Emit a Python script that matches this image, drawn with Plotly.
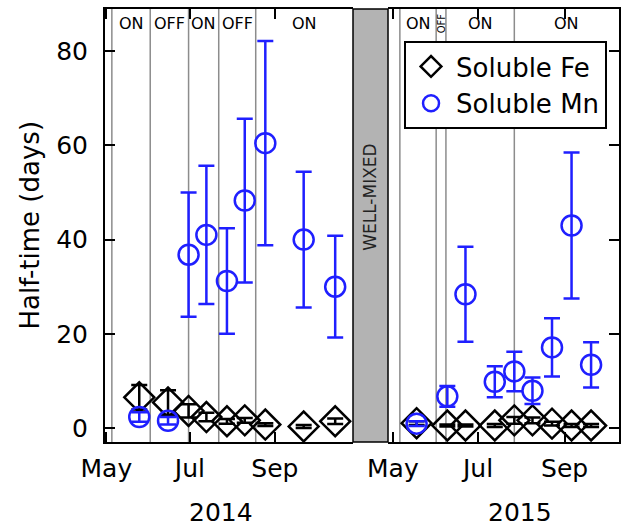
import plotly.graph_objects as go
import pandas as pd

# ---- sampling dates and half-times (days) ----
dates_2014 = ["2014-05-25", "2014-06-15", "2014-06-30", "2014-07-13", "2014-07-28",
              "2014-08-10", "2014-08-25", "2014-09-22", "2014-10-15"]
fe_2014 = [6.5, 5.4, 3.6, 2.3, 1.4, 1.6, 0.7, 0.3, 1.4]
fe_err_2014 = [2.6, 2.6, 1.4, 0.9, 0.5, 0.5, 0.3, 0.3, 0.6]
mn_2014 = [2.3, 1.5, 36.8, 41.0, 31.2, 48.3, 60.5, 40.0, 30.0]
mn_err_2014 = [1.0, 0.8, 13.2, 14.7, 11.2, 17.4, 21.7, 14.4, 10.8]

dates_2015 = ["2015-05-18", "2015-06-09", "2015-06-22", "2015-07-13", "2015-07-27",
              "2015-08-09", "2015-08-23", "2015-09-06", "2015-09-20"]
fe_2015 = [1.0, 0.5, 0.5, 0.5, 1.6, 1.6, 0.9, 0.5, 0.5]
fe_err_2015 = [0.4, 0.2, 0.2, 0.3, 0.7, 0.6, 0.4, 0.3, 0.3]
mn_2015 = [0.9, 6.7, 28.4, 9.8, 12.0, 7.9, 17.1, 43.0, 13.4]
mn_err_2015 = [0.5, 2.2, 10.1, 3.3, 4.2, 2.8, 6.2, 15.5, 4.8]

# ---- aeration periods (boundaries and state labels) ----
range_2014 = ["2014-04-30", "2014-10-28"]
range_2015 = ["2015-04-27 12:00", "2015-10-10"]
bounds_2014 = ["2014-05-05", "2014-06-02", "2014-06-30", "2014-07-22", "2014-08-18"]
states_2014 = ["ON", "OFF", "ON", "OFF", "ON"]
bounds_2015 = ["2015-05-06", "2015-06-01", "2015-06-08", "2015-07-27"]
states_2015 = ["ON", "OFF", "ON", "ON"]

# ---- axis ticks ----
month_ticks_2014 = ["2014-05-01", "2014-07-01", "2014-09-01"]
month_ticks_2015 = ["2015-05-01", "2015-07-01", "2015-09-01"]
month_labels = ["May", "Jul", "Sep"]
y_ticks = [0, 20, 40, 60, 80]
years = ["2014", "2015"]

FONT = "DejaVu Sans"
BLUE = "#1f1fff"
GRID = "#8c8c8c"
BAND = "#b3b3b3"

dom_left = [0.0, 0.4825]
dom_right = [0.5506, 1.0]

fig = go.Figure()


def add_series(xs, ys, errs, name, symbol, color, size, xa, ya, show):
    fig.add_trace(go.Scatter(
        x=xs, y=ys, mode="markers", name=name, showlegend=show,
        xaxis=xa, yaxis=ya,
        marker=dict(symbol=symbol, size=size, color=color,
                    line=dict(color=color, width=2.5)),
        error_y=dict(type="data", array=errs, color=color, thickness=2.5, width=8),
    ))


add_series(dates_2014, fe_2014, fe_err_2014, "Soluble Fe", "diamond-open", "black", 23, "x", "y", True)
add_series(dates_2015, fe_2015, fe_err_2015, "Soluble Fe", "diamond-open", "black", 23, "x2", "y2", False)
add_series(dates_2014, mn_2014, mn_err_2014, "Soluble Mn", "circle-open", BLUE, 20, "x", "y", True)
add_series(dates_2015, mn_2015, mn_err_2015, "Soluble Mn", "circle-open", BLUE, 20, "x2", "y2", False)

shapes = []
annotations = []


def mid_date(a, b):
    ta, tb = pd.Timestamp(a), pd.Timestamp(b)
    return (ta + (tb - ta) / 2).strftime("%Y-%m-%d %H:%M")


def add_periods(bounds, states, end, xref, rotate_short):
    for b in bounds:
        shapes.append(dict(type="line", xref=xref, yref="paper", x0=b, x1=b, y0=0, y1=1,
                           line=dict(color=GRID, width=1.5), layer="below"))
    edges = bounds + [end]
    for i, s in enumerate(states):
        span = (pd.Timestamp(edges[i + 1]) - pd.Timestamp(edges[i])).days
        narrow = rotate_short and span < 10
        annotations.append(dict(
            x=mid_date(edges[i], edges[i + 1]), y=0.967, xref=xref, yref="paper",
            text=s, showarrow=False, textangle=-90 if narrow else 0,
            font=dict(family=FONT, size=10 if narrow else 16, color="black"),
            xanchor="center", yanchor="middle"))


add_periods(bounds_2014, states_2014, range_2014[1], "x", False)
add_periods(bounds_2015, states_2015, range_2015[1], "x2", True)

# well-mixed winter band between the two seasons
shapes.append(dict(type="rect", xref="paper", yref="paper",
                   x0=dom_left[1], x1=dom_right[0], y0=0, y1=1,
                   fillcolor=BAND, line=dict(color="black", width=1.5), layer="above"))
annotations.append(dict(x=(dom_left[1] + dom_right[0]) / 2, y=0.565, xref="paper", yref="paper",
                        text="WELL-MIXED", textangle=-90, showarrow=False,
                        xanchor="center", yanchor="middle",
                        font=dict(family=FONT, size=17, color="#222222")))

# year labels under each season
annotations.append(dict(x="2014-07-24", y=-0.163, xref="x", yref="paper", text=years[0],
                        showarrow=False, xanchor="center", yanchor="middle",
                        font=dict(family=FONT, size=25, color="black")))
annotations.append(dict(x="2015-07-31", y=-0.163, xref="x2", yref="paper", text=years[1],
                        showarrow=False, xanchor="center", yanchor="middle",
                        font=dict(family=FONT, size=25, color="black")))

# y-axis title
annotations.append(dict(x=-0.146, y=0.5, xref="paper", yref="paper", text="Half-time (days)",
                        textangle=-90, showarrow=False, xanchor="center", yanchor="middle",
                        font=dict(family=FONT, size=26, color="black")))

xcommon = dict(type="date", showgrid=False, zeroline=False, showline=True, linecolor="black",
               linewidth=2, mirror="ticks", ticks="inside", ticklen=10, tickwidth=1.5,
               tickcolor="black", ticktext=month_labels, ticklabelstandoff=3,
               tickfont=dict(family=FONT, size=25, color="black"))
ycommon = dict(range=[-3, 89], showgrid=False, zeroline=False, showline=True, linecolor="black",
               linewidth=2, ticks="inside", ticklen=10, tickwidth=1.5, tickcolor="black",
               tickvals=y_ticks, tickfont=dict(family=FONT, size=25, color="black"))

fig.update_layout(
    width=628, height=532,
    margin=dict(l=105, r=9, t=7, b=90),
    paper_bgcolor="white", plot_bgcolor="white",
    font=dict(family=FONT, color="black"),
    xaxis=dict(xcommon, domain=dom_left, range=range_2014, tickvals=month_ticks_2014, anchor="y"),
    xaxis2=dict(xcommon, domain=dom_right, range=range_2015, tickvals=month_ticks_2015, anchor="y2"),
    yaxis=dict(ycommon, anchor="x", ticklabelstandoff=10),
    yaxis2=dict(ycommon, anchor="x2", side="right", matches="y", showticklabels=False),
    shapes=shapes,
    annotations=annotations,
    showlegend=True,
    legend=dict(x=0.9767, y=0.926, xanchor="right", yanchor="top",
                bgcolor="white", bordercolor="black", borderwidth=2,
                font=dict(family=FONT, size=26, color="black"),
                itemsizing="trace", itemwidth=40, tracegroupgap=0),
)

fig.write_html("out.html")
